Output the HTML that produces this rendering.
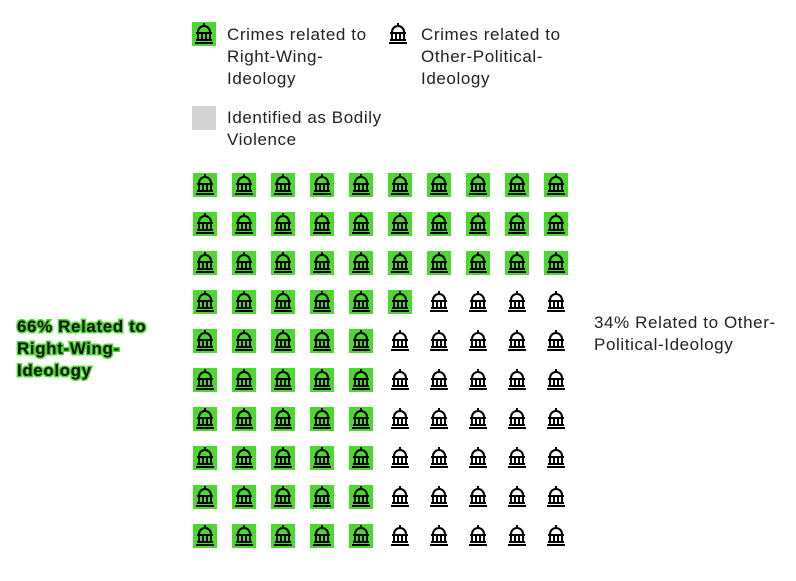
<!DOCTYPE html>
<html><head><meta charset="utf-8"><style>
body{margin:0;background:#fff;font-family:"Liberation Sans",sans-serif;}
svg text{font-family:"Liberation Sans",sans-serif;letter-spacing:0.6px;}
</style></head><body>
<svg id="c" width="796" height="576" xmlns="http://www.w3.org/2000/svg">
<g>
  <g id="lg1"></g>
  <text x="227" y="40" font-size="17" fill="#222">Crimes related to</text>
  <text x="227" y="62" font-size="17" fill="#222">Right-Wing-</text>
  <text x="227" y="84" font-size="17" fill="#222">Ideology</text>
  <g id="lg2"></g>
  <text x="421" y="40" font-size="17" fill="#222">Crimes related to</text>
  <text x="421" y="62" font-size="17" fill="#222">Other-Political-</text>
  <text x="421" y="84" font-size="17" fill="#222">Ideology</text>
  <rect x="192" y="106" width="24" height="24" fill="#d3d3d3"/>
  <text x="227" y="123" font-size="17" fill="#222">Identified as Bodily</text>
  <text x="227" y="145" font-size="17" fill="#222">Violence</text>
</g>
<g id="grid"></g>
<g font-size="17" font-weight="bold" fill="#111" stroke="#4cd92e" stroke-width="3" paint-order="stroke">
  <text x="17" y="332">66% Related to</text>
  <text x="17" y="354">Right-Wing-</text>
  <text x="17" y="376">Ideology</text>
</g>
<g font-size="17" fill="#222">
  <text x="594" y="328">34% Related to Other-</text>
  <text x="594" y="350">Political-Ideology</text>
</g>
</svg>
<script>
const categories = ["Right-Wing-Ideology", "Other-Political-Ideology"];
const values = [66, 34];
const gridCols = 10, gridRows = 10;
const NS = "http://www.w3.org/2000/svg";
function xPos(c){return 205 + c*39;}
function yPos(r){return 185 + r*39;}
function icon(parent, cx, cy, green){
  const g = document.createElementNS(NS,"g");
  if(green){
    const r=document.createElementNS(NS,"rect");
    r.setAttribute("x",cx-12);r.setAttribute("y",cy-12);r.setAttribute("width",24);r.setAttribute("height",24);r.setAttribute("fill","#4cd92e");
    g.appendChild(r);
  }
  const p=document.createElementNS(NS,"path");
  const d=`M${cx-9},${cy+9}h18 M${cx-8},${cy+6}h16 M${cx-8},${cy-1}h16 M${cx-6},${cy}v5 M${cx-2},${cy}v5 M${cx+2},${cy}v5 M${cx+6},${cy}v5 M${cx-6},${cy-2}a6,6 0 0 1 12,0 M${cx},${cy-8}v-3`;
  p.setAttribute("d",d);p.setAttribute("stroke","#000");p.setAttribute("stroke-width","2");p.setAttribute("fill","none");
  g.appendChild(p);
  parent.appendChild(g);
  return g;
}
icon(document.getElementById("lg1"),204,34,true);
icon(document.getElementById("lg2"),398,34,false);
const total = gridCols*gridRows;
const green = Math.round(values[0]/ (values[0]+values[1]) * total);
const half = gridCols/2;
const colCounts=[];
let leftAmt=Math.min(green, half*gridRows), rightAmt=green-leftAmt;
function spread(amt, n){const a=[];const b=Math.floor(amt/n);let rem=amt-b*n;for(let i=0;i<n;i++){a.push(b+(rem>0?1:0));rem--;}return a;}
const leftC = leftAmt>=half*gridRows ? Array(half).fill(gridRows) : spread(leftAmt,half);
const rightC = spread(rightAmt,half);
colCounts.push(...leftC,...rightC);
const grid=document.getElementById("grid");
for(let c=0;c<gridCols;c++){
  for(let r=0;r<gridRows;r++){
    const isG = r<colCounts[c];
    const g=icon(grid,xPos(c),yPos(r),isG);
    
    
  }
}
</script>
</body></html>
